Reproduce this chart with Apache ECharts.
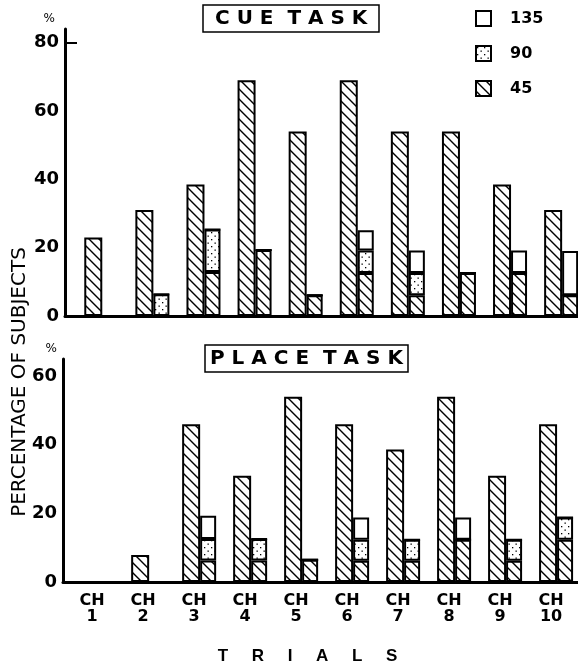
<!DOCTYPE html>
<html>
<head>
<meta charset="utf-8">
<script src="https://cdn.jsdelivr.net/npm/echarts@6/dist/echarts.min.js"></script>
<style>
html, body { margin: 0; padding: 0; background: #fff; }
#main { width: 578px; height: 669px; }
</style>
</head>
<body>
<div id="main"></div>
<script>
// trials (choice points) and y tick labels
var trials = [1, 2, 3, 4, 5, 6, 7, 8, 9, 10];
var cueTicks = [0, 20, 40, 60, 80];
var placeTicks = [0, 20, 40, 60];

// CUE TASK: tall bar (45 only) + stacked bar (45 / 90 / 135)
var cueMain = [23, 31, 38.5, 69, 54, 69, 54, 54, 38.5, 31];
var cue45 = [0, 0, 12.9, 19.3, 6.1, 12.6, 6.1, 12.6, 12.6, 6.1];
var cue90 = [0, 6.4, 12.4, 0, 0, 6.6, 6.5, 0, 0, 0];
var cue135 = [0, 0, 0, 0, 0, 5.9, 6.6, 0, 6.6, 12.9];

// PLACE TASK
var placeMain = [0, 7.9, 46, 31, 54, 46, 38.6, 54, 31, 46];
var place45 = [0, 0, 6.3, 6.3, 6.5, 6.2, 6.2, 12.3, 6.2, 12.3];
var place90 = [0, 0, 6.2, 6.2, 0, 6.1, 6.1, 0, 6.1, 6.5];
var place135 = [0, 0, 6.8, 0, 0, 6.5, 0, 6.5, 0, 0];

// rows are [value, trial] so the value column is the one that gets stacked
function rows(vals) {
    return trials.map(function (t, i) { return [vals[i], t]; });
}

function hatchCanvas() {
    var s = 10;
    var c = document.createElement('canvas');
    c.width = s; c.height = s;
    var g = c.getContext('2d');
    g.fillStyle = '#fff';
    g.fillRect(0, 0, s, s);
    g.strokeStyle = '#000';
    g.lineWidth = 1.4;
    g.beginPath();
    g.moveTo(-1, -1); g.lineTo(s + 1, s + 1);
    g.moveTo(-1, s - 1); g.lineTo(1, s + 1);
    g.moveTo(s - 1, -1); g.lineTo(s + 1, 1);
    g.stroke();
    return c;
}

function dotCanvas() {
    var c = document.createElement('canvas');
    c.width = 7; c.height = 7;
    var g = c.getContext('2d');
    g.fillStyle = '#fff';
    g.fillRect(0, 0, 7, 7);
    g.fillStyle = '#000';
    g.fillRect(1, 1, 1.3, 1.3);
    g.fillRect(4.5, 4.5, 1.3, 1.3);
    return c;
}

var hatch = { image: hatchCanvas(), repeat: 'repeat' };
var dots = { image: dotCanvas(), repeat: 'repeat' };

var font = 'DejaVu Sans';

function barSeries(name, vals, idx, stack, width, fill) {
    var s = {
        name: name,
        type: 'bar',
        xAxisIndex: idx,
        yAxisIndex: idx,
        data: rows(vals),
        encode: { x: 1, y: 0 },
        barWidth: width,
        barGap: 0,
        itemStyle: { color: fill, borderColor: '#000', borderWidth: 2 },
        emphasis: { disabled: true },
        animation: false
    };
    if (stack) s.stack = stack;
    return s;
}

var chart = echarts.init(document.getElementById('main'));
chart.setOption({
    backgroundColor: '#fff',
    title: [
        {
            text: 'C U E  T A S K',
            left: 203, top: 5,
            padding: [3, 12, 3, 12],
            borderWidth: 1.5, borderColor: '#000',
            textStyle: { fontFamily: font, fontWeight: 'bold', fontSize: 20, lineHeight: 21, color: '#000' }
        },
        {
            text: 'P L A C E  T A S K',
            left: 205, top: 345,
            padding: [3, 5, 3, 5],
            borderWidth: 1.5, borderColor: '#000',
            textStyle: { fontFamily: font, fontWeight: 'bold', fontSize: 20, lineHeight: 21, color: '#000' }
        }
    ],
    legend: {
        data: ['135', '90', '45'],
        orient: 'vertical',
        left: 475, top: 10, padding: 0,
        itemWidth: 15, itemHeight: 15, itemGap: 18,
        icon: 'rect',
        selectedMode: false,
        textStyle: { fontFamily: font, fontWeight: 'bold', fontSize: 16, color: '#000', padding: [0, 0, 0, 14] }
    },
    grid: [
        { left: 65, right: 0, top: 29, height: 287 },
        { left: 63, right: 0, top: 359, height: 223 }
    ],
    xAxis: [
        {
            type: 'value', gridIndex: 0, min: 0.29, max: 10.33,
            axisLine: { show: true, onZero: false, lineStyle: { color: '#000', width: 3 } },
            axisTick: { show: false }, splitLine: { show: false },
            axisLabel: { show: false }
        },
        {
            type: 'value', gridIndex: 1, min: 0.33, max: 10.43,
            axisLine: { show: true, onZero: false, lineStyle: { color: '#000', width: 3 } },
            axisTick: { show: false }, splitLine: { show: false },
            axisLabel: {
                customValues: trials,
                formatter: function (v) { return 'CH\n' + v; },
                fontFamily: font, fontWeight: 'bold', fontSize: 16, lineHeight: 16,
                color: '#000', margin: 11, padding: [0, 10, 0, 0]
            },
            name: 'T     R     I     A     L     S',
            nameLocation: 'middle',
            nameGap: 66,
            nameTextStyle: { fontFamily: 'Liberation Sans', fontWeight: 'bold', fontSize: 17, color: '#000', padding: [0, 26, 0, 0] }
        }
    ],
    yAxis: [
        {
            type: 'value', gridIndex: 0, min: 0, max: 84,
            axisLine: { show: true, lineStyle: { color: '#000', width: 3 } },
            axisTick: { show: true, customValues: [80], inside: true, length: 12, lineStyle: { color: '#000', width: 2 } },
            splitLine: { show: false },
            axisLabel: { customValues: cueTicks, fontFamily: font, fontWeight: 'bold', fontSize: 18, color: '#000', margin: 6 },
            name: '%', nameLocation: 'end', nameGap: 4,
            nameTextStyle: { fontFamily: font, fontSize: 12, color: '#000', align: 'right', padding: [0, 10, 0, 0] }
        },
        {
            type: 'value', gridIndex: 1, min: 0, max: 65,
            axisLine: { show: true, lineStyle: { color: '#000', width: 3 } },
            axisTick: { show: false }, splitLine: { show: false },
            axisLabel: { customValues: placeTicks, fontFamily: font, fontWeight: 'bold', fontSize: 18, color: '#000', margin: 6 },
            name: '%', nameLocation: 'end', nameGap: 4,
            nameTextStyle: { fontFamily: font, fontSize: 12, color: '#000', align: 'right', padding: [0, 6, 0, 0] }
        }
    ],
    graphic: [
        {
            type: 'text', x: 20, y: 382, rotation: Math.PI / 2,
            style: {
                text: 'PERCENTAGE OF SUBJECTS',
                font: '20px "DejaVu Sans"', fill: '#000',
                align: 'center', verticalAlign: 'middle',
                textAlign: 'center', textVerticalAlign: 'middle'
            }
        }
    ],
    series: [
        barSeries('45', cueMain, 0, null, 18, hatch),
        barSeries('45', cue45, 0, 'cue', 16, hatch),
        barSeries('90', cue90, 0, 'cue', 16, dots),
        barSeries('135', cue135, 0, 'cue', 16, '#fff'),
        barSeries('45', placeMain, 1, null, 18, hatch),
        barSeries('45', place45, 1, 'place', 16, hatch),
        barSeries('90', place90, 1, 'place', 16, dots),
        barSeries('135', place135, 1, 'place', 16, '#fff')
    ]
});
</script>
</body>
</html>
